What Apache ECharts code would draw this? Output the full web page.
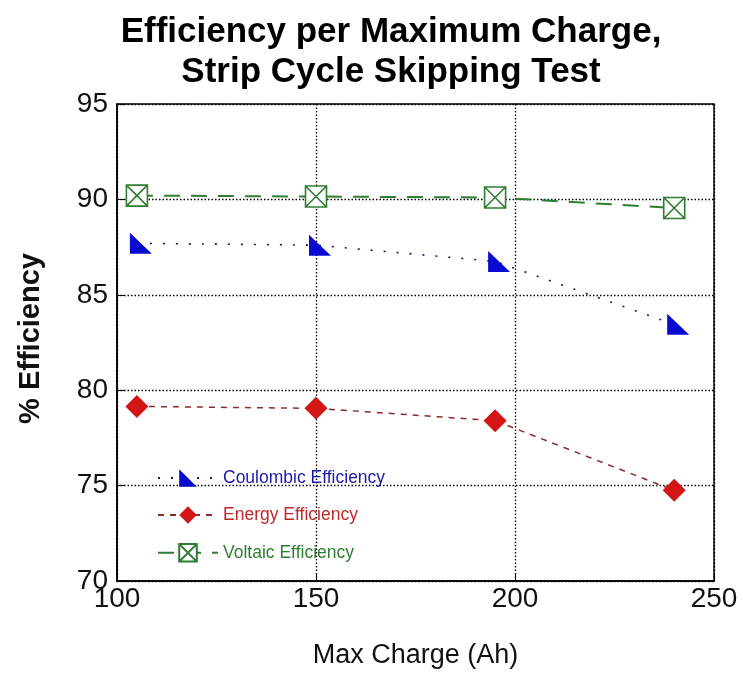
<!DOCTYPE html>
<html><head><meta charset="utf-8">
<script src="https://cdn.jsdelivr.net/npm/echarts@6/dist/echarts.min.js"></script>
<style>html,body{margin:0;padding:0;background:#fff}#c{width:743px;height:674px}</style>
</head><body><div id="c"></div>
<script>
const maxCharge = [105, 150, 195, 240];
const coulombic = [87.7, 87.6, 86.75, 83.45];
const energy = [79.15, 79.05, 78.4, 74.75];
const voltaic = [90.2, 90.15, 90.1, 89.55];
const xTicks = [100, 150, 200, 250];
const yTicks = [70, 75, 80, 85, 90, 95];

const tri = 'path://M0,0 L0,10 L10,10 Z';
const boxX = 'path://M0,0 L10,0 L10,10 L0,10 Z M0,0 L10,10 M10,0 L0,10';
const FONT = '"Liberation Sans", Arial, sans-serif';

const chart = echarts.init(document.getElementById('c'), null, {renderer: 'canvas'});
chart.setOption({
  backgroundColor: '#fff',
  animation: false,
  title: {
    text: 'Efficiency per Maximum Charge,\nStrip Cycle Skipping Test',
    left: 386, top: 7, textAlign: 'center',
    textStyle: {fontFamily: FONT, fontWeight: 'bold', fontSize: 35, color: '#000', lineHeight: 40}
  },
  grid: {left: 117, right: 29, top: 104, bottom: 91, show: true, borderColor: '#000', borderWidth: 1.5, backgroundColor: 'transparent'},
  legend: {
    left: 152, top: 464, orient: 'vertical', itemGap: 19, itemWidth: 60, itemHeight: 22,
    textStyle: {fontFamily: FONT, fontSize: 17.5},
    data: [
      {name: 'Coulombic Efficiency', textStyle: {color: '#1a1aa8'}},
      {name: 'Energy Efficiency', textStyle: {color: '#c0282a'}},
      {name: 'Voltaic Efficiency', textStyle: {color: '#2e7d32'}}
    ]
  },
  xAxis: {
    type: 'value', min: xTicks[0], max: xTicks[xTicks.length - 1], interval: 50,
    name: 'Max Charge (Ah)', nameLocation: 'middle', nameGap: 61,
    nameTextStyle: {fontFamily: FONT, fontSize: 27, color: '#111'},
    axisLine: {show: true, lineStyle: {color: '#000', width: 1.5}},
    axisTick: {show: true, inside: true, length: 8, lineStyle: {color: '#000'}},
    axisLabel: {fontFamily: FONT, fontSize: 28, color: '#111', margin: 4, showMinLabel: true, showMaxLabel: true},
    splitLine: {show: true, lineStyle: {color: '#000', type: [1.5, 2], width: 1.3}}
  },
  yAxis: {
    type: 'value', min: yTicks[0], max: yTicks[yTicks.length - 1], interval: 5,
    name: '% Efficiency', nameLocation: 'middle', nameGap: 72, nameRotate: 90,
    nameTextStyle: {fontFamily: FONT, fontSize: 29, color: '#111', fontWeight: 'bold', padding: [0, 0, 0, 8]},
    axisLine: {show: true, lineStyle: {color: '#000', width: 1.5}},
    axisTick: {show: true, inside: true, length: 8, lineStyle: {color: '#000'}},
    axisLabel: {fontFamily: FONT, fontSize: 28, color: '#111', margin: 9, padding: [0, 0, 5, 0]},
    splitLine: {show: true, lineStyle: {color: '#000', type: [1.5, 2], width: 1.3}}
  },
  series: [
    {
      name: 'Coulombic Efficiency', type: 'line',
      data: maxCharge.map((x, i) => [x, coulombic[i]]),
      symbol: tri, symbolSize: [22, 21], symbolOffset: [4, 0],
      itemStyle: {color: '#0a0ad0', borderWidth: 0},
      lineStyle: {color: '#1a1a50', width: 1.6, type: [2, 11]},
      z: 3
    },
    {
      name: 'Energy Efficiency', type: 'line',
      data: maxCharge.map((x, i) => [x, energy[i]]),
      symbol: 'diamond', symbolSize: [23, 23],
      itemStyle: {color: '#d41515', borderWidth: 0},
      lineStyle: {color: '#8a2a2a', width: 1.5, type: [6, 6]},
      z: 3
    },
    {
      name: 'Voltaic Efficiency', type: 'line',
      data: maxCharge.map((x, i) => [x, voltaic[i]]),
      symbol: boxX, symbolSize: [21, 21],
      itemStyle: {color: '#ffffff', borderColor: '#2e7d32', borderWidth: 1.6},
      lineStyle: {color: '#2e7d32', width: 2, type: [16, 11]},
      z: 3
    }
  ]
});
</script></body></html>
